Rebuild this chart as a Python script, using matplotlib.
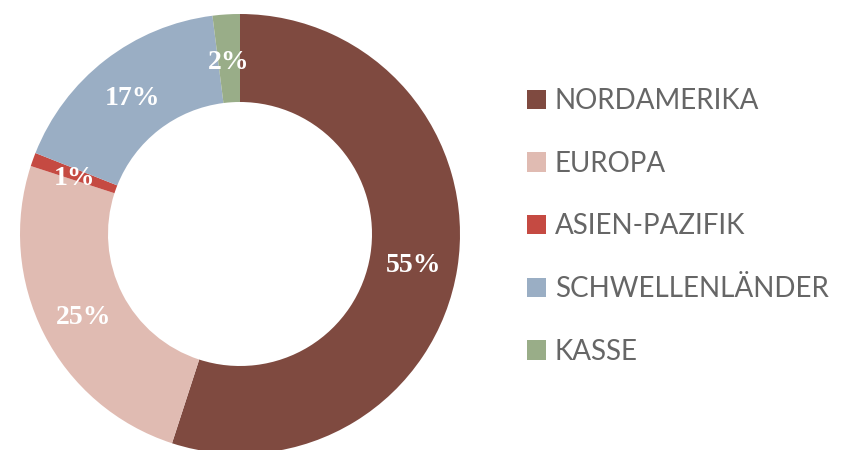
import matplotlib.pyplot as plt

regions = ["NORDAMERIKA", "EUROPA", "ASIEN-PAZIFIK", "SCHWELLENLÄNDER", "KASSE"]
shares = [55, 25, 1, 17, 2]
colors = ["#7F4A40", "#E0BBB2", "#C54A42", "#9AAEC4", "#99AD88"]

fig = plt.figure(figsize=(8.54, 4.5), dpi=100)
ax = fig.add_axes([20 / 854, -4 / 450, 440 / 854, 440 / 450])

wedges, texts, autotexts = ax.pie(
    shares, colors=colors, startangle=90, counterclock=False,
    radius=1.0, wedgeprops=dict(width=0.4, linewidth=0),
    autopct="%d%%", pctdistance=0.8,
    textprops=dict(color="white", fontsize=20, fontweight="bold",
                   family="Liberation Serif"))
# nudge the percentage labels down a little, like the original
for t in autotexts:
    x, y = t.get_position()
    t.set_position((x, y - 0.018))

ax.set_xlim(-1, 1)
ax.set_ylim(-1, 1)
ax.set_aspect("equal")
ax.axis("off")

fig.legend(wedges, regions, loc="center left", bbox_to_anchor=(502 / 854, 0.497),
           frameon=False, handlelength=0.7, handleheight=0.7, handletextpad=0.3,
           labelspacing=1.32, prop=dict(family="Lato", size=20),
           labelcolor="#666666")

plt.savefig("out.png", dpi=100)
